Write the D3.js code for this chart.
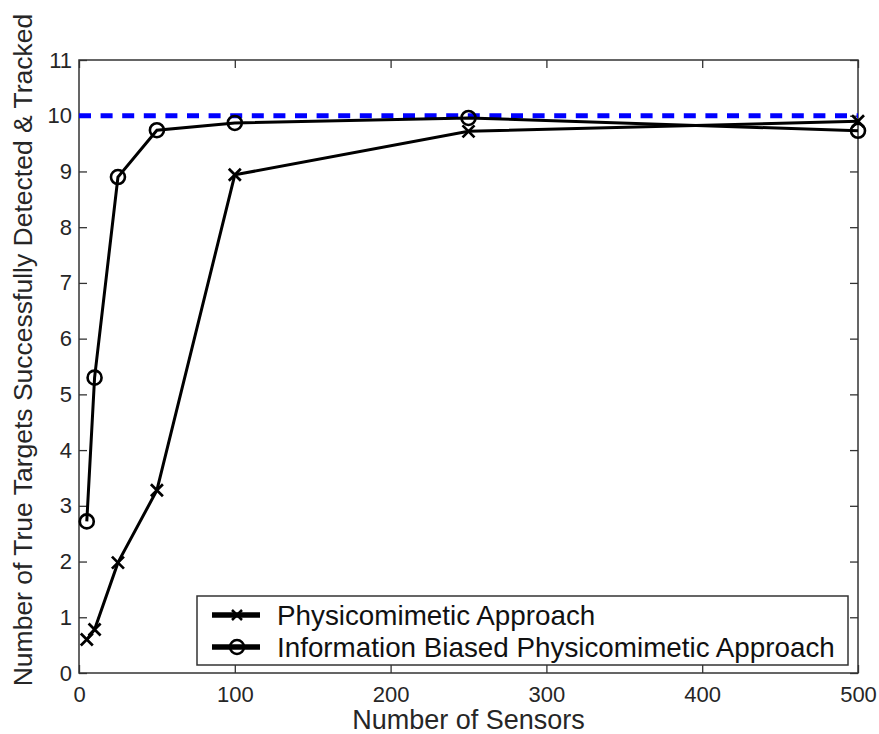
<!DOCTYPE html>
<html>
<head>
<meta charset="utf-8">
<script src="https://cdn.jsdelivr.net/npm/d3@7"></script>
<style>
  html, body { margin: 0; padding: 0; background: #fff; }
  svg { display: block; font-family: "Liberation Sans", Arial, sans-serif; }
</style>
</head>
<body>
<svg id="chart" width="879" height="734"></svg>
<script>
// Number of sensors deployed
const sensors = [5, 10, 25, 50, 100, 250, 500];
// True targets detected & tracked, per approach
const physicomimetic = [0.6, 0.78, 1.98, 3.28, 8.94, 9.72, 9.9];
const infoBiased = [2.72, 5.3, 8.9, 9.74, 9.87, 9.96, 9.73];
// Total number of true targets (reference level)
const totalTargets = 10;

const xTicks = [0, 100, 200, 300, 400, 500];
const yTicks = [0, 1, 2, 3, 4, 5, 6, 7, 8, 9, 10, 11];
const seriesNames = ["Physicomimetic Approach", "Information Biased Physicomimetic Approach"];

const svg = d3.select("#chart");
const plot = { left: 79, right: 858, top: 60, bottom: 673 };

const x = d3.scaleLinear().domain([0, 500]).range([plot.left, plot.right]);
const y = d3.scaleLinear().domain([0, 11]).range([plot.bottom, plot.top]);

const axisColor = "#333";
const textColor = "#262626";

// Axes box with inward ticks on all four sides
const tickLen = 8;
const styleAxis = g => {
  g.select(".domain").remove();
  g.selectAll(".tick line").attr("stroke", axisColor).attr("stroke-width", 1.3);
  g.selectAll(".tick text").attr("fill", textColor).style("font-size", "22px")
    .style("font-family", '"Liberation Sans", Arial, sans-serif');
};

svg.append("g").attr("transform", `translate(0,${plot.bottom})`)
  .call(d3.axisBottom(x).tickValues(xTicks).tickSize(-tickLen).tickPadding(13).tickFormat(d3.format("d")))
  .call(styleAxis);
svg.append("g").attr("transform", `translate(0,${plot.top})`)
  .call(d3.axisTop(x).tickValues(xTicks).tickSize(-tickLen).tickFormat(""))
  .call(styleAxis);
svg.append("g").attr("transform", `translate(${plot.left},0)`)
  .call(d3.axisLeft(y).tickValues(yTicks).tickSize(-tickLen).tickPadding(7).tickFormat(d3.format("d")))
  .call(styleAxis);
svg.append("g").attr("transform", `translate(${plot.right},0)`)
  .call(d3.axisRight(y).tickValues(yTicks).tickSize(-tickLen).tickFormat(""))
  .call(styleAxis);

svg.append("rect")
  .attr("x", plot.left).attr("y", plot.top)
  .attr("width", plot.right - plot.left).attr("height", plot.bottom - plot.top)
  .attr("fill", "none").attr("stroke", axisColor).attr("stroke-width", 1.5);

// Reference level: all true targets found
svg.append("line")
  .attr("x1", x(0)).attr("x2", x(500))
  .attr("y1", y(totalTargets)).attr("y2", y(totalTargets))
  .attr("stroke", "#0000ff").attr("stroke-width", 5)
  .attr("stroke-dasharray", "12,9.6");

const line = d3.line().x(d => x(d[0])).y(d => y(d[1]));

function drawCross(g, cx, cy, s, w) {
  g.append("path")
    .attr("d", `M${cx - s},${cy - s}L${cx + s},${cy + s}M${cx - s},${cy + s}L${cx + s},${cy - s}`)
    .attr("stroke", "#000").attr("stroke-width", w).attr("fill", "none");
}
function drawCircle(g, cx, cy, r, w) {
  g.append("circle").attr("cx", cx).attr("cy", cy).attr("r", r)
    .attr("fill", "none").attr("stroke", "#000").attr("stroke-width", w);
}

// Physicomimetic series
const s1 = sensors.map((d, i) => [d, physicomimetic[i]]);
const g1 = svg.append("g");
g1.append("path").attr("d", line(s1)).attr("fill", "none").attr("stroke", "#000").attr("stroke-width", 3);
s1.forEach(d => drawCross(g1, x(d[0]), y(d[1]), 6, 2.7));

// Information biased series
const s2 = sensors.map((d, i) => [d, infoBiased[i]]);
const g2 = svg.append("g");
g2.append("path").attr("d", line(s2)).attr("fill", "none").attr("stroke", "#000").attr("stroke-width", 3);
s2.forEach(d => drawCircle(g2, x(d[0]), y(d[1]), 7, 2.6));

// Axis labels
svg.append("text")
  .attr("x", (plot.left + plot.right) / 2).attr("y", 729)
  .attr("text-anchor", "middle").attr("fill", textColor)
  .style("font-size", "27px").text("Number of Sensors");
svg.append("text")
  .attr("transform", "translate(32,350) rotate(-90)")
  .attr("text-anchor", "middle").attr("fill", textColor)
  .style("font-size", "26.5px").text("Number of True Targets Successfully Detected & Tracked");

// Legend
const legend = svg.append("g");
legend.append("rect")
  .attr("x", 197).attr("y", 596).attr("width", 651).attr("height", 69)
  .attr("fill", "#fff").attr("stroke", axisColor).attr("stroke-width", 1.5);
const rows = [615, 647];
rows.forEach((ry, i) => {
  legend.append("line").attr("x1", 212).attr("x2", 260).attr("y1", ry).attr("y2", ry)
    .attr("stroke", "#000").attr("stroke-width", 5.5);
  if (i === 0) drawCross(legend, 237, ry, 5, 2.5);
  else drawCircle(legend, 237, ry, 7, 2.5);
  legend.append("text").attr("x", 277).attr("y", ry + 10)
    .attr("fill", "#111").style("font-size", "27.8px").text(seriesNames[i]);
});
</script>
</body>
</html>
